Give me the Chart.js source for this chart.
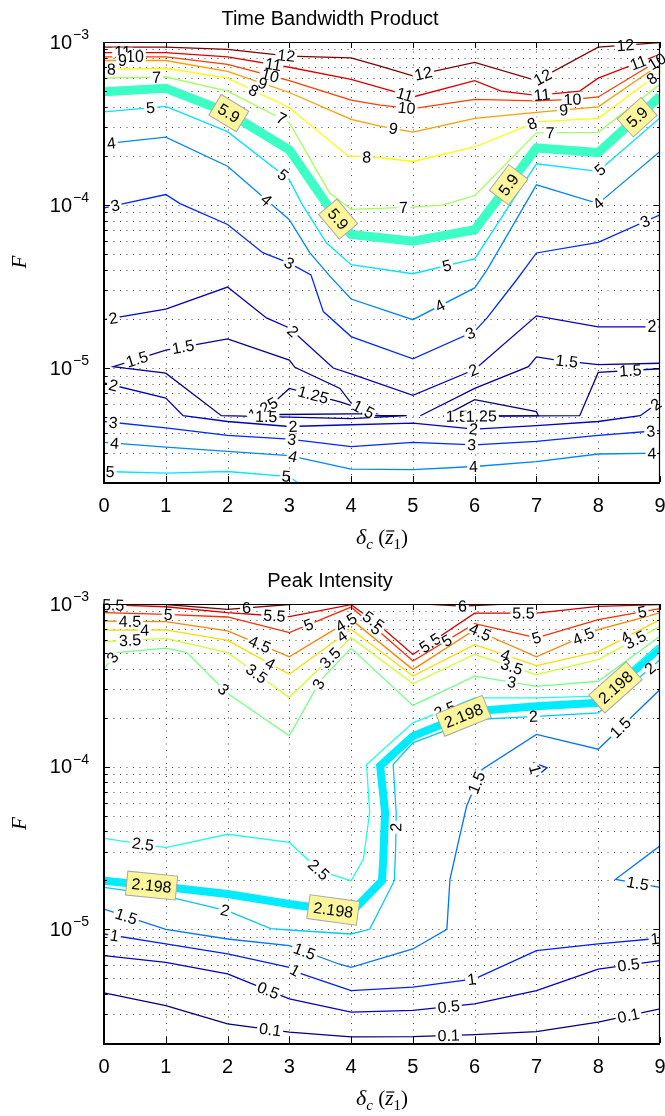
<!DOCTYPE html>
<html><head><meta charset="utf-8">
<script src="https://cdn.jsdelivr.net/npm/chart.js@4/dist/chart.umd.min.js"></script>
<style>
html,body{margin:0;padding:0;background:#fff;}
.w{position:absolute;left:0;width:665px;}
</style></head><body>
<div class="w" style="top:0;height:562px"><canvas id="c1" width="665" height="562"></canvas></div>
<div class="w" style="top:562px;height:554px"><canvas id="c2" width="665" height="554"></canvas></div>
<script>
// ---------- axes ----------
const xTicks = [0,1,2,3,4,5,6,7,8,9];
const yDecades = [1e-5, 1e-4, 1e-3];
const yMin = 2e-6, yMax = 1e-3;

// ---------- Time Bandwidth Product contours: [delta_c, F] ----------
const tbpLevelMin = 1.25, tbpLevelMax = 12, tbpHighlight = 5.9;
const tbp_12 = [[0,9.3e-4],[1,9.3e-4],[2,9.0e-4],[3,8.2e-4],[4,8.0e-4],[4.47,7.1e-4],[5,6.2e-4],[6,7.5e-4],[7,5.8e-4],[8,9.3e-4],[9,9.9e-4]];
const tbp_11 = [[0,8.6e-4],[1,8.6e-4],[2,8.1e-4],[3,7.0e-4],[4,5.9e-4],[4.47,5.25e-4],[5,4.6e-4],[6,5.8e-4],[6.43,5.0e-4],[7,4.7e-4],[7.7,5.0e-4],[8,6.0e-4],[9,8.4e-4]];
const tbp_10 = [[0,8.1e-4],[1,8.1e-4],[2,7.3e-4],[3,5.8e-4],[4,4.4e-4],[4.47,4.1e-4],[5,3.9e-4],[6,4.45e-4],[7,4.35e-4],[7.6,4.45e-4],[8,4.6e-4],[9,7.8e-4]];
const tbp_9 = [[0,7.7e-4],[1,7.7e-4],[2,6.6e-4],[3,4.9e-4],[4,3.35e-4],[4.47,3.05e-4],[5,2.8e-4],[6,3.4e-4],[7,3.7e-4],[8,4.0e-4],[9,7.3e-4]];
const tbp_8 = [[0,6.8e-4],[1,6.9e-4],[2,6.0e-4],[3,3.95e-4],[3.95,2.0e-4],[4.47,1.95e-4],[5,1.85e-4],[6,2.27e-4],[7,3.24e-4],[8,3.4e-4],[9,6.5e-4]];
const tbp_7 = [[0,6.0e-4],[1,6.1e-4],[2,5.0e-4],[3,3.2e-4],[3.65,1.19e-4],[4,9.4e-5],[5,9.7e-5],[5.47,1.0e-4],[6,1.14e-4],[7,2.77e-4],[8,2.79e-4],[9,5.5e-4]];
const tbp_59 = [[0,4.95e-4],[1,5.2e-4],[2,3.7e-4],[3,2.18e-4],[3.7,9.0e-5],[4,6.6e-5],[5,6.0e-5],[6,7.05e-5],[7,2.24e-4],[8,2.1e-4],[9,4.64e-4]];
const tbp_5 = [[0,3.73e-4],[1,4.03e-4],[2,2.82e-4],[3,1.43e-4],[3.2,1.02e-4],[3.6,5.87e-5],[4,4.31e-5],[5,3.79e-5],[6,4.67e-5],[7,1.79e-4],[8,1.61e-4],[9,3.42e-4]];
const tbp_4 = [[0,2.37e-4],[1,2.61e-4],[2,1.73e-4],[3,8.13e-5],[3.33,5.1e-5],[3.66,3.65e-5],[4,2.65e-5],[5,1.98e-5],[6,3.1e-5],[6.2,4.0e-5],[7,1.33e-4],[8,1.02e-4],[9,2.13e-4]];
const tbp_3 = [[0,9.6e-5],[1,1.16e-4],[1.23,1.02e-4],[2,7.6e-5],[2.57,5.1e-5],[3,4.4e-5],[3.35,3.73e-5],[3.55,2.22e-5],[4,1.56e-5],[5,1.14e-5],[6,1.68e-5],[6.2,2.03e-5],[6.68,3.48e-5],[7,5.08e-5],[8,5.9e-5],[9,8.7e-5]];
const tbp_2a = [[0,1.98e-5],[1,2.3e-5],[2,3.14e-5],[2.63,2.03e-5],[3,1.76e-5],[3.71,1.0e-5],[4,9.2e-6],[5,6.8e-6],[6,9.8e-6],[7,2.09e-5],[8,1.79e-5],[9,1.79e-5]];
const tbp_15a = [[4.9,5.1e-6],[4.4,5.1e-6],[4,6.1e-6],[3.82,7.5e-6],[3.09,1.01e-5],[3,1.12e-5],[2,1.51e-5],[1,1.29e-5],[0.15,1.02e-5],[1,9.3e-6],[1.9,5.1e-6],[3,5.0e-6],[4,4.9e-6],[4.9,5.1e-6]];
const tbp_15b = [[5.12,5.1e-6],[6,7.5e-6],[6.87,1.02e-5],[7,1.17e-5],[7.33,1.12e-5],[8,1.05e-5],[9,1.07e-5]];
const tbp_15c = [[5.49,5.05e-6],[7.7,5.1e-6],[8,9.4e-6],[9,9.9e-6]];
const tbp_125a = [[2.41,5.17e-6],[2.74,6.1e-6],[3,7.5e-6],[3.82,6.2e-6],[4.4,5.25e-6],[2.41,5.17e-6]];
const tbp_125b = [[5.49,5.05e-6],[6,6.4e-6],[7,5.4e-6],[7.03,5.1e-6],[5.49,5.05e-6]];
const tbp_2b = [[0,8.1e-6],[1,6.55e-6],[1.28,5.1e-6],[2,4.7e-6],[3,4.38e-6],[4,4.49e-6],[5,4.6e-6],[6,4.22e-6],[7,4.43e-6],[8,4.7e-6],[8.68,5.1e-6],[9,6.24e-6]];
const tbp_3b = [[0,4.7e-6],[1,4.29e-6],[2,3.86e-6],[3,3.66e-6],[4,3.3e-6],[5,3.5e-6],[6,3.38e-6],[7,3.55e-6],[8,3.86e-6],[9,4.14e-6]];
const tbp_4b = [[0,3.5e-6],[1,3.27e-6],[2,3.08e-6],[3,2.9e-6],[4,2.4e-6],[5,2.38e-6],[6,2.49e-6],[7,2.67e-6],[8,2.97e-6],[9,3.01e-6]];
const tbp_5b = [[0,2.32e-6],[1,2.27e-6],[2,2.32e-6],[3,2.16e-6],[3.12,2.0e-6]];

const tbpLines = [
  [12,tbp_12],[11,tbp_11],[10,tbp_10],[9,tbp_9],[8,tbp_8],[7,tbp_7],[5.9,tbp_59],[5,tbp_5],[4,tbp_4],[3,tbp_3],
  [2,tbp_2a],[1.5,tbp_15a],[1.5,tbp_15b],[1.5,tbp_15c],[1.25,tbp_125a],[1.25,tbp_125b],[2,tbp_2b],[3,tbp_3b],[4,tbp_4b],[5,tbp_5b]
];
// label positions: [contour, fractional vertex index]
const tbpLabels = [
  [tbp_11,0.3],[tbp_10,0.5],[tbp_9,0.3],[tbp_8,0.12],[tbp_7,0.85],[tbp_5,0.75],[tbp_4,0.12],[tbp_3,0.18],
  [tbp_12,2.95],[tbp_11,2.74],[tbp_10,2.69],[tbp_9,2.57],[tbp_8,2.42],[tbp_7,2.87],[tbp_5,2.9],[tbp_4,2.63],[tbp_3,5.0],
  [tbp_12,6.17],[tbp_11,5.75],[tbp_10,5.81],[tbp_9,5.4],[tbp_8,4.58],[tbp_7,5.85],[tbp_5,7.55],[tbp_4,7.44],[tbp_3,9.93],[tbp_2a,7.98],
  [tbp_12,8.1],[tbp_11,9.13],[tbp_10,8.97],[tbp_9,8.44],[tbp_8,7.93],[tbp_7,9.22],[tbp_5,10.03],[tbp_4,11.0],[tbp_3,14.76],
  [tbp_12,9.44],[tbp_11,11.65],[tbp_10,10.95],[tbp_8,9.87],
  [tbp_2a,0.15],[tbp_15a,7.55],[tbp_15a,6.72],[tbp_2a,4.08],[tbp_125a,2.47],
  [tbp_2b,0.15],[tbp_3b,0.15],[tbp_4b,0.17],[tbp_5b,0.1],
  [tbp_125a,0.5],[tbp_15a,10.66],[tbp_2b,4.06],[tbp_3b,3.04],[tbp_4b,3.06],[tbp_5b,2.95],
  [tbp_15a,1.5],[tbp_15c,0.1],[tbp_125b,3.6],[tbp_2b,6.98],[tbp_3b,5.95],[tbp_4b,5.98],
  [tbp_15b,4.24],[tbp_15c,2.52],[tbp_2a,10.87],[tbp_2b,10.8],[tbp_3b,8.85],[tbp_4b,8.87]
];
const tbpBoxes = [2.02, 4.3, 7.55, 9.63];

// ---------- Peak Intensity contours: [delta_c, F] ----------
const pkLevelMin = 0.1, pkLevelMax = 6, pkHighlight = 2.198;
const pk_6a = [[0.9,1e-3],[2,9.27e-4],[3.1,1e-3]];
const pk_6b = [[5.2,1e-3],[5.8,9.7e-4],[6.5,1e-3]];
const pk_55 = [[0,9.9e-4],[1,9.62e-4],[2,8.84e-4],[2.8,8.44e-4],[3,8.36e-4],[4,9.9e-4],[4.47,7.33e-4],[5,4.89e-4],[6,8.78e-4],[7,8.8e-4],[8,9.67e-4],[9,9.9e-4]];
const pk_5 = [[0,8.84e-4],[1,8.63e-4],[2,8.32e-4],[3,6.67e-4],[4,9.58e-4],[5,4.46e-4],[6,7.57e-4],[7,6.19e-4],[8,8.01e-4],[9,9.36e-4]];
const pk_45 = [[0,7.84e-4],[1,7.79e-4],[2,6.83e-4],[3,4.73e-4],[4,8.04e-4],[5,3.95e-4],[6,6.95e-4],[7,4.73e-4],[8,6.95e-4],[9,8.81e-4]];
const pk_4 = [[0,6.91e-4],[1,6.93e-4],[2,5.98e-4],[3,3.7e-4],[4,6.99e-4],[5,3.61e-4],[6,5.63e-4],[7,4.18e-4],[8,5.1e-4],[9,8.01e-4]];
const pk_35 = [[0,5.87e-4],[1,6.15e-4],[2,5.03e-4],[3,2.66e-4],[4,6.21e-4],[5,3.24e-4],[6,4.89e-4],[7,3.68e-4],[8,4.55e-4],[9,7.26e-4]];
const pk_3 = [[0,3.98e-4],[0.2,5.03e-4],[1,5.36e-4],[1.34,5.03e-4],[2,2.82e-4],[3,1.55e-4],[3.5,3.38e-4],[4,5.34e-4],[5,2.38e-4],[6,3.6e-4],[7,3.12e-4],[8,3.35e-4],[9,6.33e-4]];
const pk_25 = [[0,3.62e-5],[1,3.18e-5],[2,3.84e-5],[3,3.42e-5],[3.5,2.28e-5],[4,1.99e-5],[4.2,2.7e-5],[4.3,5.24e-5],[4.25,1.03e-4],[5,1.86e-4],[6,2.65e-4],[7,2.65e-4],[8,2.71e-4],[9,5.63e-4]];
const pk_2198 = [[0,1.99e-5],[1,1.82e-5],[2,1.65e-5],[3,1.43e-5],[4,1.27e-5],[4.5,1.99e-5],[4.52,2.7e-5],[4.55,5.22e-5],[4.47,1.01e-4],[5,1.54e-4],[6,2.19e-4],[7,2.35e-4],[8,2.47e-4],[9,5.39e-4]];
const pk_2 = [[0,1.81e-5],[1,1.6e-5],[2,1.3e-5],[2.7,1.01e-5],[3,9.9e-6],[4,9.36e-6],[4.3,1.0e-5],[4.7,1.99e-5],[4.72,3.11e-5],[4.73,5.22e-5],[4.68,1.03e-4],[5,1.4e-4],[6,1.95e-4],[7,2.04e-4],[8,2.14e-4],[9,4.55e-4]];
const pk_15 = [[0,1.33e-5],[1,1.0e-5],[2,8.72e-6],[3,7.93e-6],[3.8,6.12e-6],[4,5.84e-6],[5,7.57e-6],[5.55,1.0e-5],[5.6,2.03e-5],[5.71,3.11e-5],[5.87,5.73e-5],[6.12,9.62e-5],[7,1.58e-4],[8,1.28e-4],[9,2.98e-4]];
const pk_15r = [[9,3.26e-5],[8.28,2.03e-5],[9,1.81e-5]];
const pk_1 = [[0,9.36e-6],[1,8.13e-6],[2,7.06e-6],[3,5.84e-6],[3.2,5.32e-6],[4,4.2e-6],[5,4.41e-6],[6,4.96e-6],[7,7.39e-6],[8,8.13e-6],[9,8.81e-6]];
const pk_1r = [[6.95,1.06e-4],[7.17,9.86e-5],[7.01,8.76e-5],[6.95,1.06e-4]];
const pk_05 = [[0,6.89e-6],[1,6.27e-6],[2,5.32e-6],[3,3.74e-6],[4,3.1e-6],[5,3.17e-6],[6,3.48e-6],[7,4.2e-6],[8,5.7e-6],[9,6.42e-6]];
const pk_01 = [[0,4.07e-6],[1,3.4e-6],[2,2.62e-6],[3,2.33e-6],[4,2.18e-6],[5,2.19e-6],[6,2.25e-6],[7,2.35e-6],[8,2.69e-6],[9,3.24e-6]];

const pkLines = [
  [6,pk_6a],[6,pk_6b],[5.5,pk_55],[5,pk_5],[4.5,pk_45],[4,pk_4],[3.5,pk_35],[3,pk_3],[2.5,pk_25],[2.198,pk_2198],
  [2,pk_2],[1.5,pk_15],[1.5,pk_15r],[1,pk_1],[1,pk_1r],[0.5,pk_05],[0.1,pk_01]
];
const pkLabels = [
  [pk_55,0.15],[pk_5,1.04],[pk_6a,1.28],[pk_55,2.95],[pk_5,3.31],[pk_45,0.42],[pk_4,0.66],[pk_35,0.42],[pk_3,0.7],
  [pk_45,2.52],[pk_4,2.69],[pk_35,2.47],[pk_3,3.9],[pk_35,3.66],[pk_4,3.85],[pk_45,3.92],[pk_3,5.94],
  [pk_55,5.77],[pk_5,4.41],[pk_55,7.28],[pk_5,5.55],[pk_45,6.09],[pk_4,6.5],[pk_35,6.6],[pk_3,9.6],
  [pk_55,8.79],[pk_5,7.0],[pk_45,7.76],[pk_5,8.71],[pk_4,8.44],[pk_35,8.6],[pk_2,14.84],[pk_25,9.52],[pk_2,12.95],
  [pk_25,0.63],[pk_25,3.95],[pk_2,1.96],[pk_2,8.6],[pk_15,0.36],[pk_15,3.31],[pk_15,10.64],[pk_15,13.36],[pk_15r,1.5],
  [pk_1,0.17],[pk_1,3.45],[pk_1,6.95],[pk_1,9.92],[pk_1r,2.5],[pk_05,2.66],[pk_05,5.58],[pk_05,8.49],
  [pk_01,2.69],[pk_01,5.58],[pk_01,8.49],[pk_6b,1.0]
];
const pkBoxes = [9.82, 12.28, 0.77, 3.71];

// ---------- drawing helpers ----------
const SANS = '"Liberation Sans", Arial, Helvetica, sans-serif';
const SERIF = '"Liberation Serif", "Times New Roman", serif';
function jet(t){
  const c = v => Math.round(255*Math.max(0, Math.min(1, v)));
  return `rgb(${c(Math.min(4*t-1.5, -4*t+4.5))},${c(Math.min(4*t-0.5, -4*t+3.5))},${c(Math.min(4*t+0.5, -4*t+2.5))})`;
}
function minorValues(){
  const v = [];
  for (let e = -6; e <= -4; e++) for (let k = 1; k <= 9; k++) {
    const val = k*Math.pow(10, e);
    if (val > yMin*1.001 && val < yMax*0.999) v.push(val);
  }
  return v;
}
function posAt(meta, s){
  const pts = meta.data, n = pts.length;
  let i = Math.floor(s); if (i > n-2) i = n-2; if (i < 0) i = 0;
  const f = s - i, a = pts[i], b = pts[i+1];
  let ang = Math.atan2(b.y-a.y, b.x-a.x);
  if (ang > Math.PI/2) ang -= Math.PI;
  if (ang < -Math.PI/2) ang += Math.PI;
  return {x: a.x+(b.x-a.x)*f, y: a.y+(b.y-a.y)*f, ang};
}
function fmt(l){ return String(l); }

function contourPlugin(lines, labels, boxes, hl){
  return {
    id: 'contourDeco',
    beforeDatasetsDraw(chart){
      const {ctx, chartArea: ca, scales: {x, y}} = chart;
      ctx.save();
      ctx.beginPath(); ctx.rect(ca.left, ca.top, ca.right-ca.left, ca.bottom-ca.top); ctx.clip();
      ctx.strokeStyle = '#4a4a4a'; ctx.lineWidth = 1; ctx.setLineDash([1, 5.5]);
      xTicks.slice(1, -1).forEach(v => {
        const px = Math.round(x.getPixelForValue(v)) + 0.5;
        ctx.beginPath(); ctx.moveTo(px, ca.top + 3); ctx.lineTo(px, ca.bottom); ctx.stroke();
      });
      minorValues().forEach(v => {
        const py = Math.round(y.getPixelForValue(v)) + 0.5;
        ctx.beginPath(); ctx.moveTo(ca.left + 3, py); ctx.lineTo(ca.right, py); ctx.stroke();
      });
      ctx.restore();
    },
    afterDatasetsDraw(chart){
      const ctx = chart.ctx;
      const idxOf = arr => lines.findIndex(l => l[1] === arr);
      ctx.save();
      labels.forEach(([arr, s]) => {
        const i = idxOf(arr);
        const p = posAt(chart.getDatasetMeta(i), s);
        const txt = fmt(lines[i][0]);
        ctx.save();
        ctx.translate(p.x, p.y); ctx.rotate(p.ang);
        ctx.font = '16px ' + SANS;
        const w = ctx.measureText(txt).width;
        ctx.fillStyle = '#fff'; ctx.fillRect(-w/2-2, -5, w+4, 10);
        ctx.fillStyle = '#000'; ctx.textAlign = 'center'; ctx.textBaseline = 'middle';
        ctx.fillText(txt, 0, 1);
        ctx.restore();
      });
      const hi = lines.findIndex(l => l[0] === hl);
      boxes.forEach(s => {
        const p = posAt(chart.getDatasetMeta(hi), s);
        const txt = fmt(hl);
        ctx.save();
        ctx.translate(p.x, p.y); ctx.rotate(p.ang);
        ctx.font = '16px ' + SANS;
        const w = ctx.measureText(txt).width + 10, h = 24;
        ctx.fillStyle = '#fbf59b'; ctx.fillRect(-w/2, -h/2, w, h);
        ctx.strokeStyle = '#a8a8a8'; ctx.lineWidth = 1; ctx.strokeRect(-w/2, -h/2, w, h);
        ctx.fillStyle = '#000'; ctx.textAlign = 'center'; ctx.textBaseline = 'middle';
        ctx.fillText(txt, 0, 1);
        ctx.restore();
      });
      ctx.restore();
    },
    afterDraw(chart){
      const {ctx, chartArea: ca, scales: {x, y}} = chart;
      ctx.save();
      ctx.strokeStyle = '#000';
      ctx.lineWidth = 1.2;
      ctx.beginPath(); ctx.moveTo(ca.left, ca.top+0.5); ctx.lineTo(ca.right, ca.top+0.5);
      ctx.moveTo(ca.right-0.5, ca.top); ctx.lineTo(ca.right-0.5, ca.bottom); ctx.stroke();
      ctx.lineWidth = 2;
      ctx.beginPath(); ctx.moveTo(ca.left, ca.top); ctx.lineTo(ca.left, ca.bottom+1); ctx.lineTo(ca.right, ca.bottom+1); ctx.stroke();
      ctx.lineWidth = 1;
      xTicks.forEach(v => {
        const px = Math.round(x.getPixelForValue(v)) + 0.5;
        ctx.beginPath(); ctx.moveTo(px, ca.bottom); ctx.lineTo(px, ca.bottom-6);
        ctx.moveTo(px, ca.top); ctx.lineTo(px, ca.top+6); ctx.stroke();
      });
      minorValues().concat(yDecades).forEach(v => {
        const py = Math.round(y.getPixelForValue(v)) + 0.5;
        const len = yDecades.includes(v) ? 6 : 3;
        ctx.beginPath(); ctx.moveTo(ca.left, py); ctx.lineTo(ca.left+len, py);
        ctx.moveTo(ca.right, py); ctx.lineTo(ca.right-len, py); ctx.stroke();
      });
      ctx.fillStyle = '#000';
      yDecades.forEach(v => {
        const py = y.getPixelForValue(v);
        const e = Math.round(Math.log10(v));
        ctx.font = '20px ' + SANS; ctx.textAlign = 'right'; ctx.textBaseline = 'middle';
        ctx.fillText('10', ca.left - 32, py + 1);
        ctx.font = '14px ' + SANS; ctx.textAlign = 'left';
        ctx.fillText('\u2212' + Math.abs(e), ca.left - 31, py - 7);
      });
      const parts = [
        {t: '\u03B4', f: 'italic 22px ' + SERIF, dy: 0},
        {t: 'c', f: 'italic 15px ' + SERIF, dy: 5},
        {t: ' (', f: '21px ' + SERIF, dy: 0},
        {t: 'z', f: 'italic 21px ' + SERIF, dy: 0, bar: true},
        {t: '1', f: '15px ' + SERIF, dy: 5},
        {t: ')', f: '21px ' + SERIF, dy: 0}
      ];
      let tot = 0;
      parts.forEach(p => { ctx.font = p.f; p.w = ctx.measureText(p.t).width; tot += p.w; });
      let cx = (ca.left + ca.right)/2 - tot/2;
      const base = ca.bottom + 62;
      ctx.textAlign = 'left'; ctx.textBaseline = 'alphabetic';
      parts.forEach(p => {
        ctx.font = p.f; ctx.fillText(p.t, cx, base + p.dy);
        if (p.bar) { ctx.lineWidth = 1.2; ctx.beginPath(); ctx.moveTo(cx+1, base-13); ctx.lineTo(cx+p.w+1, base-13); ctx.stroke(); }
        cx += p.w;
      });
      ctx.restore();
    }
  };
}

function makeChart(id, title, lines, lmin, lmax, hl, thick, labels, boxes, xAxisH){
  const datasets = lines.map(([lev, pts]) => ({
    label: fmt(lev),
    data: pts.map(p => ({x: p[0], y: p[1]})),
    borderColor: jet((lev - lmin)/(lmax - lmin)),
    borderWidth: lev === hl ? thick : 1.3,
    order: lev === hl ? 1 : 0,
    pointRadius: 0, fill: false, tension: 0
  }));
  return new Chart(document.getElementById(id), {
    type: 'line',
    data: {datasets},
    options: {
      responsive: false, animation: false, devicePixelRatio: 1,
      layout: {padding: {left: 0, right: 5, top: 0, bottom: 0}},
      plugins: {
        legend: {display: false}, tooltip: {enabled: false},
        title: {display: true, text: title, color: '#000',
          font: {family: SANS, size: 20, weight: 'normal'}, padding: {top: 7, bottom: 11}}
      },
      scales: {
        x: {type: 'linear', min: 0, max: 9,
          ticks: {stepSize: 1, color: '#000', font: {family: SANS, size: 20}, padding: 12, maxRotation: 0, autoSkip: false},
          grid: {display: false, drawTicks: false}, border: {display: false},
          afterFit: s => { s.height = xAxisH; s.paddingLeft = 0; s.paddingRight = 0; }
        },
        y: {type: 'logarithmic', min: yMin, max: yMax,
          ticks: {display: false},
          grid: {display: false, drawTicks: false}, border: {display: false},
          title: {display: true, text: 'F', color: '#000',
            font: {family: SERIF, style: 'italic', size: 21}, padding: {top: 8, bottom: 0}},
          afterFit: s => { s.width = 104; s.paddingTop = 0; s.paddingBottom = 0; }
        }
      }
    },
    plugins: [contourPlugin(lines, labels, boxes, hl)]
  });
}

makeChart('c1', 'Time Bandwidth Product', tbpLines, tbpLevelMin, tbpLevelMax, tbpHighlight, 9, tbpLabels, tbpBoxes, 80);
makeChart('c2', 'Peak Intensity', pkLines, pkLevelMin, pkLevelMax, pkHighlight, 8, pkLabels, pkBoxes, 73);
</script>
</body></html>
